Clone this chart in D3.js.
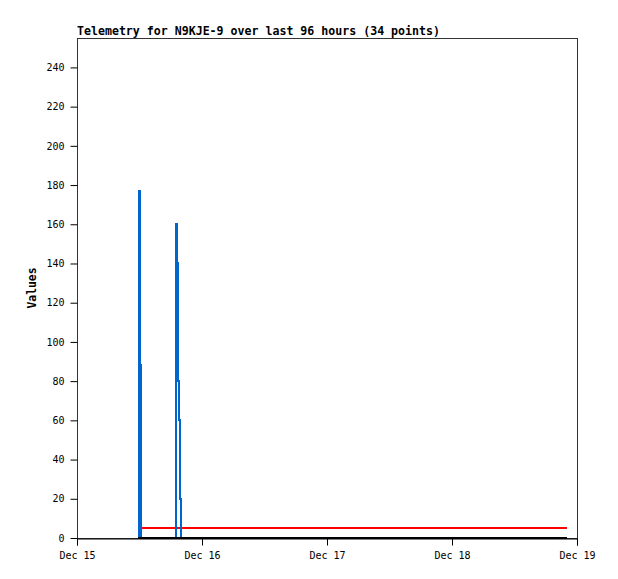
<!DOCTYPE html>
<html>
<head>
<meta charset="utf-8">
<script src="https://cdn.jsdelivr.net/npm/d3@7"></script>
<style>
  body { margin: 0; background: #fff; }
  text { font-family: "DejaVu Sans Mono", monospace; fill: #000; }
</style>
</head>
<body>
<script>
// Telemetry packets (34 points), UTC timestamps
const times = [
    '2023-12-15 11:42', '2023-12-15 11:54', '2023-12-15 12:06', '2023-12-15 12:12',
    '2023-12-15 18:49', '2023-12-15 18:55', '2023-12-15 19:03', '2023-12-15 19:12',
    '2023-12-15 19:20', '2023-12-15 19:27', '2023-12-15 19:35', '2023-12-15 19:50',
    '2023-12-15 19:58', '2023-12-15 23:30', '2023-12-16 03:12', '2023-12-16 07:00',
    '2023-12-16 10:48', '2023-12-16 14:24', '2023-12-16 18:06', '2023-12-16 21:54',
    '2023-12-17 01:36', '2023-12-17 05:12', '2023-12-17 09:00', '2023-12-17 12:42',
    '2023-12-17 16:18', '2023-12-17 20:06', '2023-12-17 23:48', '2023-12-18 03:30',
    '2023-12-18 07:12', '2023-12-18 10:54', '2023-12-18 14:36', '2023-12-18 18:18',
    '2023-12-18 20:30', '2023-12-18 22:06'
];
const blueValues = [
    0, 177, 88, 0,
    0, 80, 160, 140, 100, 80, 60, 20, 0,
    0, 0, 0, 0, 0, 0, 0, 0, 0, 0, 0, 0, 0, 0, 0, 0, 0, 0, 0, 0, 0
];
const redValues = [
    0, 5, 5, 5, 5, 5, 5, 5, 5, 5, 5, 5, 5, 5, 5, 5, 5,
    5, 5, 5, 5, 5, 5, 5, 5, 5, 5, 5, 5, 5, 5, 5, 5, 5
];
const blackValues = times.map(() => 0);
const yTicks = [0, 20, 40, 60, 80, 100, 120, 140, 160, 180, 200, 220, 240];
const xStart = '2023-12-15 00:00';
const xEnd = '2023-12-19 00:00';
const title = 'Telemetry for N9KJE-9 over last 96 hours (34 points)';

const width = 618;
const height = 579;
const margin = { top: 38, right: 41, bottom: 41, left: 77 };
const innerW = width - margin.left - margin.right;
const innerH = height - margin.top - margin.bottom;

const parse = d3.utcParse('%Y-%m-%d %H:%M');
const dates = times.map(parse);

const svg = d3.select('body').append('svg')
    .attr('width', width)
    .attr('height', height);

const g = svg.append('g')
    .attr('transform', 'translate(' + margin.left + ',' + margin.top + ')');

const x = d3.scaleUtc()
    .domain([parse(xStart), parse(xEnd)])
    .range([0, innerW]);

const y = d3.scaleLinear()
    .domain([0, 255])
    .range([innerH, 0]);

// frame
g.append('rect')
    .attr('x', 0.5).attr('y', 0.5)
    .attr('width', innerW).attr('height', innerH)
    .attr('fill', 'none')
    .attr('stroke', '#333')
    .attr('stroke-width', 1);

// y axis
const yAxis = g.append('g')
    .attr('transform', 'translate(0.5,0)')
    .call(d3.axisLeft(y).tickValues(yTicks).tickSize(7).tickPadding(6));
yAxis.select('.domain').remove();
yAxis.selectAll('text').style('font-size', '10px');

// x axis
const xAxis = g.append('g')
    .attr('transform', 'translate(0,' + (innerH + 0.5) + ')')
    .call(d3.axisBottom(x).ticks(d3.utcDay.every(1)).tickFormat(d3.utcFormat('%b %d')).tickSize(7).tickPadding(6));
xAxis.select('.domain').attr('stroke', '#000');
xAxis.selectAll('text').style('font-size', '10px');

// series, drawn as steps like the original
function series(values, color) {
    const line = d3.line()
        .curve(d3.curveStepAfter)
        .x((d, i) => x(dates[i]))
        .y(d => y(d));
    g.append('path')
        .datum(values)
        .attr('fill', 'none')
        .attr('stroke', color)
        .attr('stroke-width', 2)
        .attr('shape-rendering', 'crispEdges')
        .attr('d', line);
}
series(redValues, '#ff0000');
series(blueValues, '#0066cc');
series(blackValues, '#000000');

// title
svg.append('text')
    .attr('x', margin.left)
    .attr('y', 35)
    .style('font-size', '11.6px')
    .style('font-weight', 'bold')
    .text(title);

// y label
svg.append('text')
    .attr('transform', 'translate(36,' + (margin.top + innerH / 2) + ') rotate(-90)')
    .attr('text-anchor', 'middle')
    .style('font-size', '11.4px')
    .style('font-weight', 'bold')
    .text('Values');
</script>
</body>
</html>
